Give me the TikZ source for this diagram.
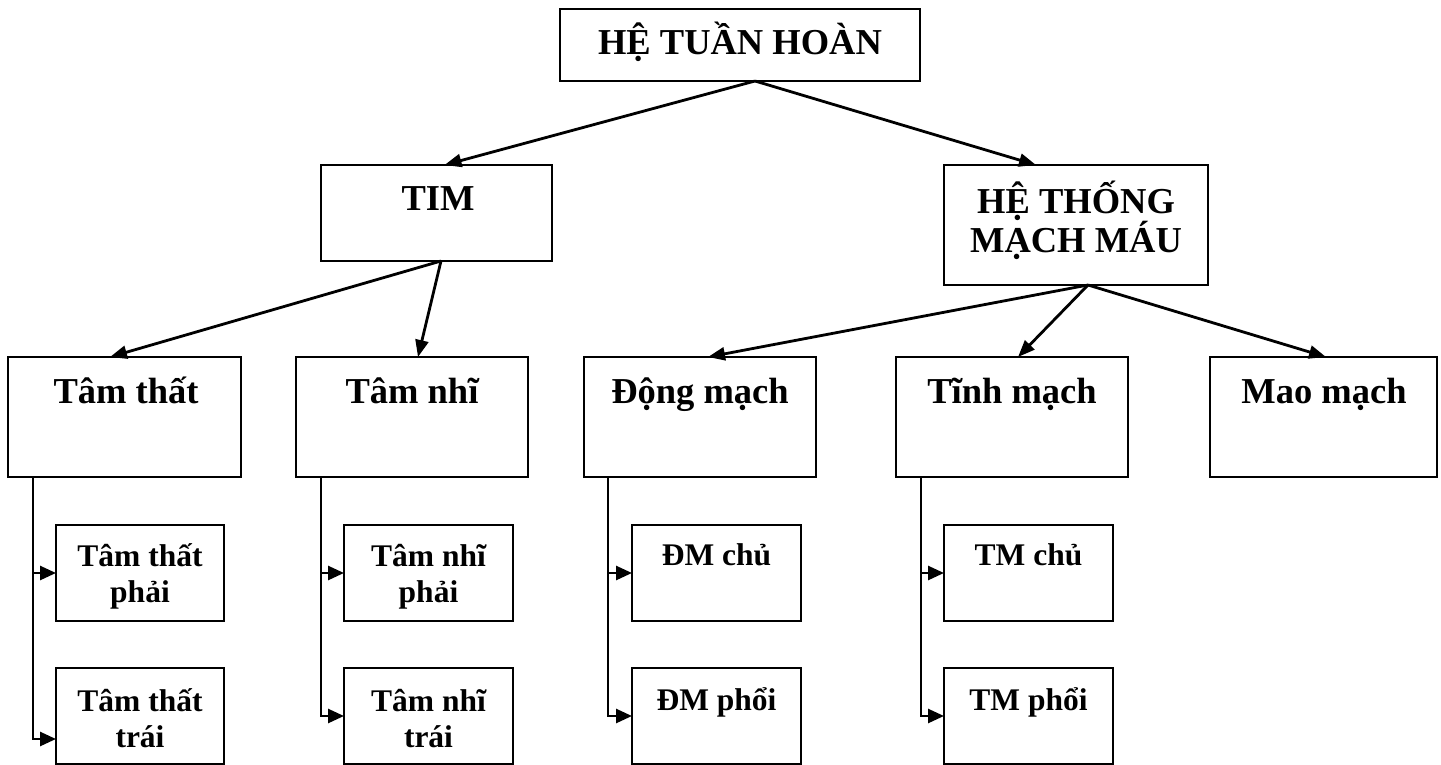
\documentclass[tikz,border=0pt]{standalone}
\usepackage{fontspec}
\setmainfont{Liberation Serif}
\usetikzlibrary{arrows.meta}
\tikzset{
  box/.style={draw, line width=2pt, inner sep=0pt, outer sep=0pt},
  bigtxt/.style={font=\bfseries\fontsize{36.5}{39}\selectfont, inner sep=0pt, align=center, anchor=base},
  subtxt/.style={font=\bfseries\fontsize{31.5}{36}\selectfont, inner sep=0pt, align=center, anchor=base},
  conn/.style={line width=2.8pt, -{Triangle[length=17pt,width=13pt]}},
  sideconn/.style={line width=2.6pt, -{Triangle[length=16pt,width=14pt]}},
}
\begin{document}
\begin{tikzpicture}[x=1pt,y=-1pt]
\useasboundingbox (0,0) rectangle (1441,765);

% level 1
\node[box, minimum width=360pt, minimum height=72pt] (top) at (740,45) {};
\node[bigtxt] (toptxt) at (740,55) {HỆ TUẦN HOÀN};

% level 2
\node[box, minimum width=231pt, minimum height=96pt] (tim) at (436.5,213) {};
\node[bigtxt] (timtxt) at (438,211) {TIM};
\node[box, minimum width=264pt, minimum height=120pt] (htmm) at (1076,225) {};
\node[bigtxt] (htmmtxt) at (1076,252) {HỆ THỐNG\\MẠCH MÁU};

% level 3
\node[box, minimum width=233pt, minimum height=120pt] (tth) at (124.5,417) {};
\node[bigtxt] (tthtxt) at (126,403) {Tâm thất};
\node[box, minimum width=232pt, minimum height=120pt] (tnh) at (412,417) {};
\node[bigtxt] (tnhtxt) at (412,403) {Tâm nhĩ};
\node[box, minimum width=232pt, minimum height=120pt] (dm) at (700,417) {};
\node[bigtxt] (dmtxt) at (700,403) {Động mạch};
\node[box, minimum width=232pt, minimum height=120pt] (tm) at (1012,417) {};
\node[bigtxt] (tmtxt) at (1012,403) {Tĩnh mạch};
\node[box, minimum width=227pt, minimum height=120pt] (mm) at (1323.5,417) {};
\node[bigtxt] (mmtxt) at (1324,403) {Mao mạch};

% level 4
\node[box, minimum width=168pt, minimum height=96pt] (tthR) at (140,573) {};
\node[subtxt] (tthRtxt) at (140,602) {Tâm thất\\phải};
\node[box, minimum width=168pt, minimum height=96pt] (tthL) at (140,716) {};
\node[subtxt] (tthLtxt) at (140,747) {Tâm thất\\trái};

\node[box, minimum width=169pt, minimum height=96pt] (tnhR) at (428.5,573) {};
\node[subtxt] (tnhRtxt) at (428.5,602) {Tâm nhĩ\\phải};
\node[box, minimum width=169pt, minimum height=96pt] (tnhL) at (428.5,716) {};
\node[subtxt] (tnhLtxt) at (428.5,747) {Tâm nhĩ\\trái};

\node[box, minimum width=169pt, minimum height=96pt] (dmR) at (716.5,573) {};
\node[subtxt] (dmRtxt) at (716.5,565) {ĐM chủ};
\node[box, minimum width=169pt, minimum height=96pt] (dmL) at (716.5,716) {};
\node[subtxt] (dmLtxt) at (716.5,710) {ĐM phổi};

\node[box, minimum width=169pt, minimum height=96pt] (tmR) at (1028.5,573) {};
\node[subtxt] (tmRtxt) at (1028.5,565) {TM chủ};
\node[box, minimum width=169pt, minimum height=96pt] (tmL) at (1028.5,716) {};
\node[subtxt] (tmLtxt) at (1028.5,710) {TM phổi};

% connectors between levels
\coordinate (topout) at ([xshift=15pt]top.south);
\draw[conn] (topout) -- ([xshift=8pt]tim.north);
\draw[conn] (topout) -- ([xshift=-40pt]htmm.north);

\coordinate (timout) at ([xshift=4.5pt]tim.south);
\draw[conn] (timout) -- ([xshift=-14.5pt]tth.north);
\draw[conn] (timout) -- ([xshift=6pt]tnh.north);

\coordinate (htmmout) at ([xshift=12pt]htmm.south);
\draw[conn] (htmmout) -- ([xshift=8pt]dm.north);
\draw[conn] (htmmout) -- ([xshift=6pt]tm.north);
\draw[conn] (htmmout) -- ([xshift=2.5pt]mm.north);

% side buses to the sub-boxes
\coordinate (tthbus) at ([xshift=25pt]tth.south west);
\draw[sideconn] (tthbus) |- (tthR.west);
\draw[sideconn] (tthbus) |- ([yshift=-23pt]tthL.west);

\coordinate (tnhbus) at ([xshift=25pt]tnh.south west);
\draw[sideconn] (tnhbus) |- (tnhR.west);
\draw[sideconn] (tnhbus) |- (tnhL.west);

\coordinate (dmbus) at ([xshift=24pt]dm.south west);
\draw[sideconn] (dmbus) |- (dmR.west);
\draw[sideconn] (dmbus) |- (dmL.west);

\coordinate (tmbus) at ([xshift=25pt]tm.south west);
\draw[sideconn] (tmbus) |- (tmR.west);
\draw[sideconn] (tmbus) |- (tmL.west);
\end{tikzpicture}
\end{document}
